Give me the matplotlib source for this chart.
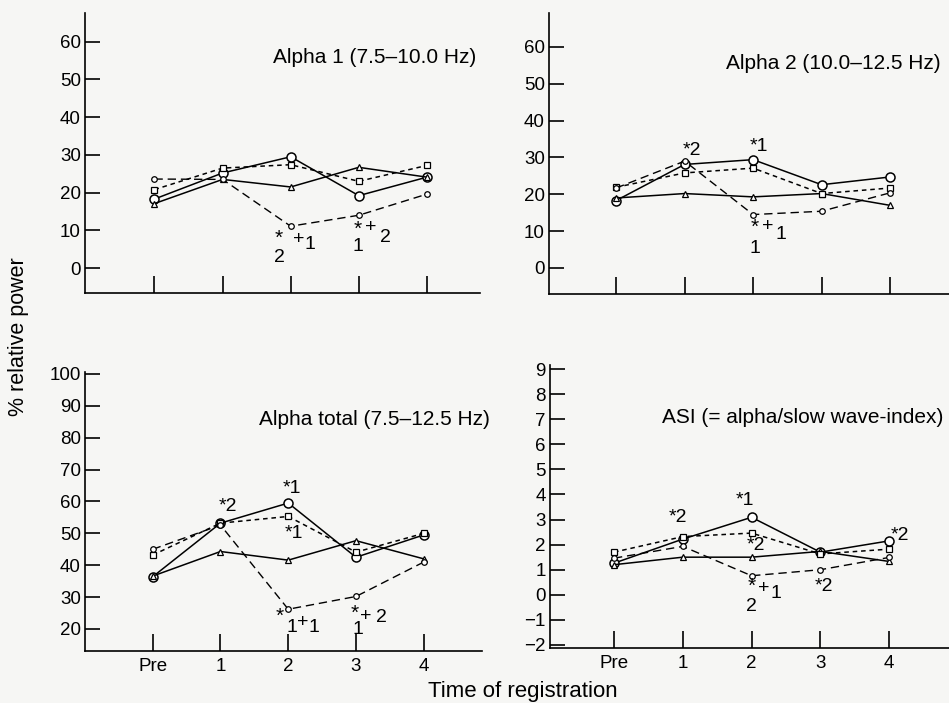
import matplotlib
matplotlib.use("Agg")
import matplotlib.pyplot as plt

plt.rcParams['font.family'] = ['Liberation Sans', 'DejaVu Sans']

# Time points
times = ["Pre", "1", "2", "3", "4"]
x = [0, 1, 2, 3, 4]

# Alpha 1 (7.5-10.0 Hz)
a1_circle = [18.3, 25.2, 29.5, 19.2, 24.1]
a1_triangle = [17.1, 23.5, 21.5, 26.7, 24.1]
a1_square = [20.8, 26.5, 27.4, 23.0, 27.2]
a1_small = [23.6, 23.5, 11.1, 14.0, 19.6]

# Alpha 2 (10.0-12.5 Hz)
a2_circle = [18.3, 28.1, 29.4, 22.6, 24.7]
a2_triangle = [19.0, 20.2, 19.3, 20.2, 17.0]
a2_square = [21.9, 25.8, 27.1, 20.2, 21.7]
a2_small = [21.7, 29.0, 14.5, 15.4, 20.4]

# Alpha total (7.5-12.5 Hz)
at_circle = [36.4, 53.2, 59.5, 42.5, 49.5]
at_triangle = [36.6, 44.3, 41.6, 47.7, 42.0]
at_square = [43.2, 53.2, 55.3, 44.1, 50.0]
at_small = [45.0, 52.6, 26.2, 30.2, 41.0]

# ASI
asi_circle = [1.26, 2.22, 3.09, 1.70, 2.15]
asi_triangle = [1.20, 1.50, 1.50, 1.73, 1.33]
asi_square = [1.70, 2.32, 2.46, 1.63, 1.82]
asi_small = [1.46, 1.93, 0.76, 1.00, 1.49]

# significance marks (x, y, text)
a1_notes = [(1.83, 8.0, "*"), (2.12, 7.6, "+"), (2.28, 6.2, "1"), (1.83, 2.7, "2"),
            (2.99, 10.2, "*"), (3.17, 10.8, "+"), (3.39, 8.1, "2"), (2.99, 5.8, "1")]
a2_notes = [(1.10, 32.0, "*2"), (2.09, 33.0, "*1"),
            (2.02, 10.9, "*"), (2.21, 11.3, "+"), (2.40, 9.0, "1"), (2.03, 5.4, "1")]
at_notes = [(1.11, 58.5, "*2"), (2.05, 64.2, "*1"), (2.09, 50.0, "*1"),
            (1.88, 23.9, "*"), (2.05, 20.4, "1"), (2.21, 22.0, "+"), (2.38, 20.4, "1"),
            (2.98, 25.0, "*"), (3.15, 23.9, "+"), (3.38, 23.7, "2"), (3.03, 19.8, "1")]
asi_notes = [(0.93, 3.08, "*2"), (1.91, 3.75, "*1"), (2.07, 1.96, "*2"),
             (2.00, 0.33, "*"), (2.18, 0.27, "+"), (2.36, 0.07, "1"), (2.00, -0.46, "2"),
             (3.05, 0.33, "*2"), (4.16, 2.35, "*2")]

bg = '#f6f6f4'
W, H = 949, 703
fig = plt.figure(figsize=(W / 100, H / 100), dpi=100, facecolor=bg)


def make_axes(left, right, top, bottom):
    # pixel box -> figure fraction
    return fig.add_axes([left / W, 1 - bottom / H, (right - left) / W, (bottom - top) / H])


def draw_panel(ax, circ, tri, sq, sm, notes, title, title_xy, yticks, xlim, ylim, show_xlabels):
    ax.set_facecolor(bg)
    ax.plot(x, circ, '-', color='k', lw=1.1, marker='o', ms=6.5, mfc='white', mec='k', mew=1.1)
    ax.plot(x, tri, '-', color='k', lw=1.1, marker='^', ms=4, mfc='white', mec='k', mew=0.9)
    ax.plot(x, sq, color='k', lw=1.1, ls=(0, (3, 2.5)), marker='s', ms=4, mfc='white', mec='k', mew=0.9)
    ax.plot(x, sm, color='k', lw=1.0, ls=(0, (6, 3.5)), marker='o', ms=4, mfc='white', mec='k', mew=0.9)
    for nx, ny, t in notes:
        fs = 15 if t == "*" else 14
        ax.text(nx, ny, t, ha='center', va='center', fontsize=fs)
    ax.set_xlim(*xlim)
    ax.set_ylim(*ylim)
    ax.set_yticks(yticks)
    ax.set_yticklabels([("\u2212" + str(-v)) if v < 0 else str(v) for v in yticks], fontsize=13.5)
    ax.set_xticks(x)
    if show_xlabels:
        ax.set_xticklabels(times, fontsize=13.5)
    else:
        ax.set_xticklabels([])
    ax.tick_params(axis='y', direction='in', length=11, width=1.2, pad=3)
    ax.tick_params(axis='x', direction='in', length=12, width=1.2, pad=5)
    for s in ['top', 'right']:
        ax.spines[s].set_visible(False)
    for s in ['left', 'bottom']:
        ax.spines[s].set_linewidth(1.2)
    ax.text(title_xy[0], title_xy[1], title, transform=ax.transAxes, ha='right', va='center', fontsize=15)


ax1 = make_axes(85, 480, 13, 293)
draw_panel(ax1, a1_circle, a1_triangle, a1_square, a1_small, a1_notes,
           "Alpha 1 (7.5\u201310.0 Hz)", (0.99, 0.84), [0, 10, 20, 30, 40, 50, 60],
           (-1.02, 4.78), (-6.6, 67.6), False)

ax2 = make_axes(549, 949, 13, 294)
draw_panel(ax2, a2_circle, a2_triangle, a2_square, a2_small, a2_notes,
           "Alpha 2 (10.0\u201312.5 Hz)", (0.98, 0.82), [0, 10, 20, 30, 40, 50, 60],
           (-0.98, 4.86), (-7.06, 69.2), False)

ax3 = make_axes(85, 482, 372, 651)
draw_panel(ax3, at_circle, at_triangle, at_square, at_small, at_notes,
           "Alpha total (7.5\u201312.5 Hz)", (1.02, 0.83), [20, 30, 40, 50, 60, 70, 80, 90, 100],
           (-1.0, 4.86), (13.1, 100.6), True)

ax4 = make_axes(550, 949, 365, 648)
draw_panel(ax4, asi_circle, asi_triangle, asi_square, asi_small, asi_notes,
           "ASI (= alpha/slow wave-index)", (0.985, 0.815), [-2, -1, 0, 1, 2, 3, 4, 5, 6, 7, 8, 9],
           (-0.93, 4.87), (-2.12, 9.16), True)

fig.text(19 / W, 1 - 337 / H, "% relative power", rotation=90, ha='center', va='center', fontsize=15.5)
fig.text(523 / W, 1 - 691 / H, "Time of registration", ha='center', va='center', fontsize=16)

fig.savefig("out.png", dpi=100, facecolor=bg)
